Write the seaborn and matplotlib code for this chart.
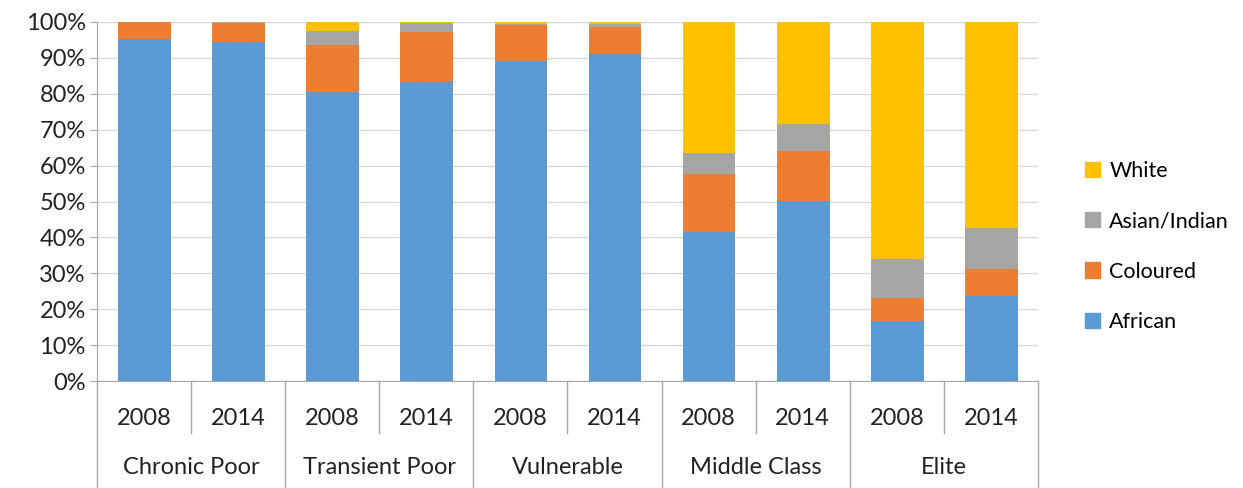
import numpy as np
import pandas as pd
import matplotlib
matplotlib.use("Agg")
import matplotlib.pyplot as plt
import matplotlib.transforms as mtransforms
from matplotlib.patches import Patch
import seaborn as sns

groups = ["Chronic Poor", "Transient Poor", "Vulnerable", "Middle Class", "Elite"]
years = ["2008", "2014"]
african = [95.2, 94.5, 80.4, 83.3, 89.2, 91.0, 41.4, 50.2, 16.8, 23.8]
coloured = [4.8, 5.3, 13.2, 13.9, 10.0, 7.7, 16.3, 13.9, 6.4, 7.4]
asian = [0.0, 0.2, 3.9, 2.4, 0.3, 0.8, 5.9, 7.5, 10.7, 11.3]
white = [0.0, 0.0, 2.5, 0.4, 0.5, 0.5, 36.4, 28.4, 66.1, 57.5]

series = ["African", "Coloured", "Asian/Indian", "White"]
colors = {"African": "#5B9BD5", "Coloured": "#ED7D31", "Asian/Indian": "#A5A5A5", "White": "#FFC000"}

df = pd.DataFrame({"African": african, "Coloured": coloured, "Asian/Indian": asian, "White": white})
df["slot"] = [f"{g}\n{y}" for g in groups for y in years]
cum = df[series].cumsum(axis=1)
cum = cum.div(cum["White"], axis=0) * 100
cum["slot"] = df["slot"]

plt.rcParams["font.family"] = ["Lato", "DejaVu Sans"]
fig = plt.figure(figsize=(12.43, 4.88), dpi=100)
ax = fig.add_axes([0.078, 0.219, 0.757, 0.736])

# draw from the top of the stack down so each layer covers the one above
for s in series[::-1]:
    sns.barplot(data=cum, x="slot", y=s, color=colors[s], width=0.55, ax=ax,
                saturation=1, edgecolor=colors[s], linewidth=0.6, zorder=3)

ax.set_ylim(0, 100)
ax.set_xlim(-0.5, 9.5)
ax.set_yticks(np.arange(0, 101, 10))
ax.set_yticklabels([f"{v}%" for v in range(0, 101, 10)], fontsize=17, color="#222222")
ax.grid(axis="y", color="#D9D9D9", linewidth=1, zorder=0)
ax.set_axisbelow(True)
ax.set_xlabel("")
ax.set_ylabel("")
ax.set_xticks([])
for sp in ["top", "right"]:
    ax.spines[sp].set_visible(False)
ax.spines["left"].set_color("#A6A6A6")
ax.spines["bottom"].set_color("#A6A6A6")
ax.tick_params(axis="y", length=5, color="#A6A6A6", pad=3)

# two-level category axis
trans = mtransforms.blended_transform_factory(ax.transData, ax.transAxes)
line_kw = dict(color="#A6A6A6", linewidth=1, transform=trans, clip_on=False)
for k in range(11):
    x = k - 0.5
    bottom = -0.298 if k % 2 == 0 else -0.145
    ax.plot([x, x], [0, bottom], **line_kw)
for i, g in enumerate(groups):
    for j, y in enumerate(years):
        ax.text(2 * i + j, -0.103, y, transform=trans, ha="center", va="center",
                fontsize=17, color="#222222")
    ax.text(2 * i + 0.5, -0.24, g, transform=trans, ha="center", va="center",
            fontsize=17, color="#222222")

handles = [Patch(facecolor=colors[s], edgecolor=colors[s]) for s in series[::-1]]
fig.legend(handles, series[::-1], loc="center left", bbox_to_anchor=(0.857, 0.495),
           frameon=False, fontsize=15.5, labelspacing=1.4, handlelength=0.7,
           handleheight=0.7, handletextpad=0.45)

fig.savefig("out.png", dpi=100)
